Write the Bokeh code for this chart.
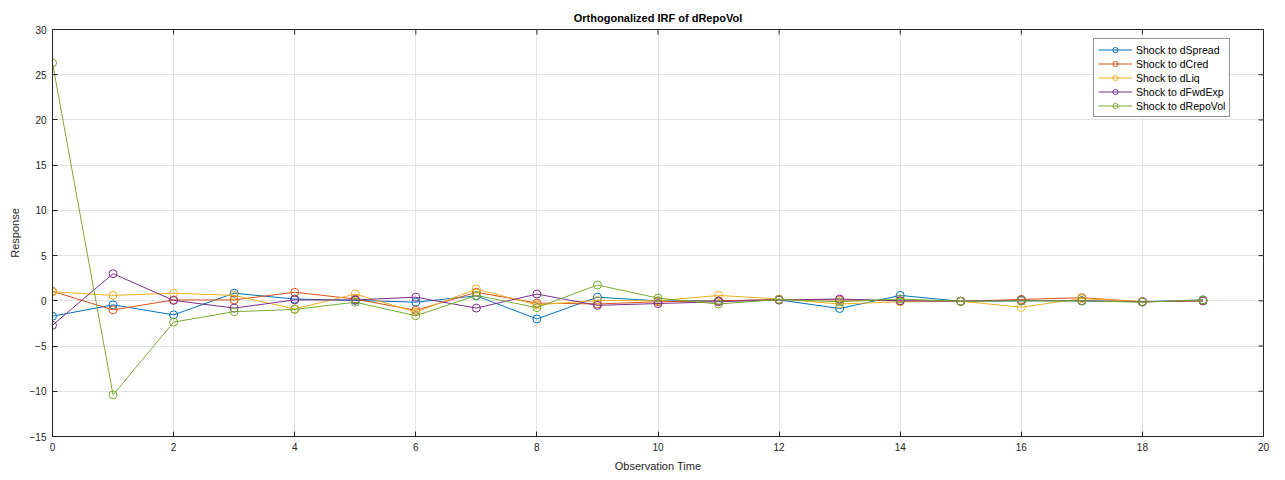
import math
from bokeh.plotting import figure
from bokeh.models import FixedTicker, Legend, LegendItem, Range1d
from bokeh.embed import file_html
from bokeh.resources import INLINE

# Impulse responses of dRepoVol, horizons 0..19
steps = list(range(20))
shock_dspread = [-1.7, -0.45, -1.55, 0.84, 0.2, 0.05, -0.15, 0.55, -2.0, 0.4,
                 0.0, 0.0, 0.1, -0.85, 0.6, -0.05, 0.0, 0.0, -0.1, 0.1]
shock_dcred = [1.05, -1.0, 0.1, 0.1, 0.95, 0.2, -1.05, 0.95, -0.25, -0.35,
               -0.1, 0.0, 0.15, 0.1, 0.0, -0.05, 0.15, 0.35, -0.1, 0.0]
shock_dliq = [1.0, 0.6, 0.84, 0.6, -0.9, 0.75, -1.25, 1.3, -0.45, 0.05,
              0.0, 0.6, 0.2, -0.35, -0.1, -0.05, -0.7, 0.25, -0.1, 0.0]
shock_dfwdexp = [-2.7, 3.0, 0.05, -0.8, 0.1, 0.1, 0.4, -0.8, 0.75, -0.5,
                 -0.3, -0.1, 0.1, 0.2, 0.0, -0.05, 0.05, 0.0, -0.1, 0.0]
shock_drepovol = [26.3, -10.4, -2.35, -1.2, -0.95, -0.15, -1.65, 0.6, -0.75, 1.75,
                  0.3, -0.35, 0.15, -0.1, 0.2, -0.05, 0.0, 0.0, -0.15, 0.1]

series_names = ["Shock to dSpread", "Shock to dCred", "Shock to dLiq",
                "Shock to dFwdExp", "Shock to dRepoVol"]
series_values = [shock_dspread, shock_dcred, shock_dliq, shock_dfwdexp, shock_drepovol]
series_colors = ["#0072BD", "#D95319", "#EDB120", "#7E2F8E", "#77AC30"]

x_ticks = list(range(0, 21, 2))
y_ticks = list(range(-15, 31, 5))
x_min, x_max = 0, 20
y_min, y_max = -15, 30

FONT = "Liberation Sans"
AXIS_COLOR = "#262626"

p = figure(width=1285, height=480, output_backend="svg", toolbar_location=None,
           x_range=Range1d(x_min, x_max), y_range=Range1d(y_min, y_max),
           min_border_left=52, min_border_right=22, min_border_top=29,
           min_border_bottom=44, x_axis_label="Observation Time",
           y_axis_label="Response")

p.title.text = "Orthogonalized IRF of dRepoVol"
p.title.align = "center"
p.title.text_font = FONT
p.title.text_font_size = "11px"
p.title.text_font_style = "bold"
p.title.text_color = "#000000"
p.title.offset = 0
p.title.standoff = 12

p.background_fill_color = "white"
p.border_fill_color = "white"
p.outline_line_color = AXIS_COLOR
p.outline_line_width = 1

for axis in p.xaxis + p.yaxis:
    axis.major_label_text_font = FONT
    axis.major_label_text_font_size = "10px"
    axis.major_label_text_color = AXIS_COLOR
    axis.axis_label_text_font = FONT
    axis.axis_label_text_font_size = "11px"
    axis.axis_label_text_font_style = "normal"
    axis.axis_label_text_color = AXIS_COLOR
    axis.axis_line_color = AXIS_COLOR
    axis.major_tick_line_color = AXIS_COLOR
    axis.major_tick_in = 5
    axis.major_tick_out = 0
    axis.minor_tick_line_color = None
    axis.major_label_standoff = 6
    axis.axis_label_standoff = 6

p.xaxis.ticker = FixedTicker(ticks=x_ticks)
p.yaxis.ticker = FixedTicker(ticks=y_ticks)

# inward tick marks along the top and right edges of the box
# (dashes centred on the edge; the outer half is clipped by the frame)
p.scatter(x_ticks, [y_max] * len(x_ticks), marker="dash", size=10,
          angle=math.pi / 2, line_color=AXIS_COLOR, line_width=1)
p.scatter([x_max] * len(y_ticks), y_ticks, marker="dash", size=10,
          angle=0, line_color=AXIS_COLOR, line_width=1)

p.xgrid.ticker = FixedTicker(ticks=x_ticks)
p.ygrid.ticker = FixedTicker(ticks=y_ticks)
p.xgrid.grid_line_color = "#e3e3e3"
p.ygrid.grid_line_color = "#e3e3e3"

items = []
for name, vals, color in zip(series_names, series_values, series_colors):
    ln = p.line(steps, vals, line_color=color, line_width=1)
    mk = p.scatter(steps, vals, marker="circle", size=8, line_color=color,
                   fill_color=None, line_width=1)
    items.append(LegendItem(label=name, renderers=[ln, mk]))

legend = Legend(items=items, location=(1041, 319))
legend.label_text_font = FONT
legend.label_text_font_size = "10.5px"
legend.label_text_color = "#000000"
legend.label_height = 13
legend.label_standoff = 4
legend.glyph_width = 34
legend.glyph_height = 13
legend.spacing = 1
legend.padding = 4
legend.margin = 0
legend.border_line_color = AXIS_COLOR
legend.border_line_width = 1
legend.background_fill_color = "white"
p.add_layout(legend, "center")

open("out.html", "w").write(file_html(p, INLINE))
